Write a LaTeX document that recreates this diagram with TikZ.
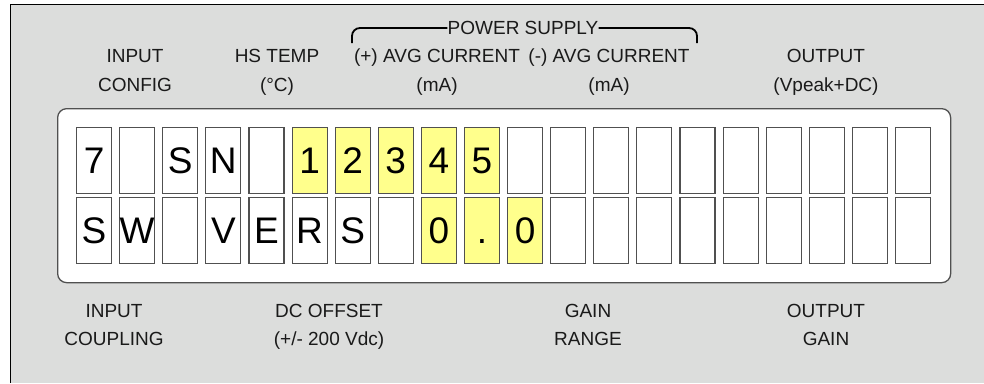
\documentclass[tikz,border=0pt]{standalone}
\usepackage{fontspec}
\setmainfont{Liberation Sans}
\definecolor{bg}{HTML}{DCDDDC}
\definecolor{lcdy}{HTML}{FFFF8C}
\definecolor{cellb}{HTML}{505050}
\definecolor{txt}{HTML}{1A1A1A}
\begin{document}
\begin{tikzpicture}[x=1pt,y=-1pt,
  panel/.style={draw=cellb, line width=1.3pt, rounded corners=9pt, fill=white, minimum width=893pt, minimum height=174pt, inner sep=0pt, anchor=north west},
  cellbox/.style={draw=cellb, line width=1.1pt, fill=white, minimum width=35pt, minimum height=66pt, inner sep=0pt, anchor=north west},
  ylw/.style={fill=lcdy},
  lbl/.style={font=\fontsize{19}{22}\selectfont, text=txt, inner sep=0pt, anchor=base},
  glyph/.style={font=\fontsize{37}{40}\selectfont, inner sep=0pt, anchor=base},
  brace/.style={line width=1.8pt, rounded corners=8pt}]
\useasboundingbox (0,0) rectangle (984,383);
\fill[bg] (10,4) rectangle (984,383);
\draw[line width=1pt] (10,383) -- (10,4) -- (984,4);

% LCD panel
\node[panel] (lcd) at (57,108) {};

% cells
\foreach \i in {0,...,19} {
  \node[cellbox] (ra\i) at ({76+43.1*\i},127) {};
  \node[cellbox] (rb\i) at ({76+43.1*\i},197) {};
}
\foreach \i in {5,...,9} { \node[cellbox, ylw] (ya\i) at ({76+43.1*\i},127) {}; }
\foreach \i in {8,9,10} { \node[cellbox, ylw] (yb\i) at ({76+43.1*\i},197) {}; }

% row 1 glyphs
\foreach \i/\c in {0/7,2/S,3/N,5/1,6/2,7/3,8/4,9/5} {
  \node[glyph] (ga\i) at ([yshift=-13pt]ra\i.center) {\c};
}
% row 2 glyphs
\foreach \i/\c in {0/S,1/W,3/V,4/E,5/R,6/S,8/0,9/.,10/0} {
  \node[glyph] (gb\i) at ([yshift=-13pt]rb\i.center) {\c};
}

% top labels
\node[lbl] (l1a) at (135,62) {INPUT};
\node[lbl] (l1b) at (135,91) {CONFIG};
\node[lbl] (l2a) at (277,62) {HS TEMP};
\node[lbl] (l2b) at (277,91) {(°C)};
\node[lbl] (l3a) at (437,62) {(+) AVG CURRENT};
\node[lbl] (l3b) at (437,91) {(mA)};
\node[lbl] (l4a) at (609,62) {(-) AVG CURRENT};
\node[lbl] (l4b) at (609,91) {(mA)};
\node[lbl] (l5a) at (826,62) {OUTPUT};
\node[lbl] (l5b) at (826,91) {(Vpeak+DC)};

% power supply bracket
\node[lbl] (ps) at (523,34.5) {POWER SUPPLY};
\coordinate (bl) at (352,43);
\coordinate (br) at (697,43);
\draw[brace] (bl) |- (ps.west |- 0,28);
\draw[brace] (ps.east |- 0,28) -| (br);

% bottom labels
\node[lbl] (b1a) at (114,317) {INPUT};
\node[lbl] (b1b) at (114,345) {COUPLING};
\node[lbl] (b2a) at (329,317) {DC OFFSET};
\node[lbl] (b2b) at (329,345) {(+/- 200 Vdc)};
\node[lbl] (b3a) at (588,317) {GAIN};
\node[lbl] (b3b) at (588,345) {RANGE};
\node[lbl] (b4a) at (826,317) {OUTPUT};
\node[lbl] (b4b) at (826,345) {GAIN};
\end{tikzpicture}
\end{document}
